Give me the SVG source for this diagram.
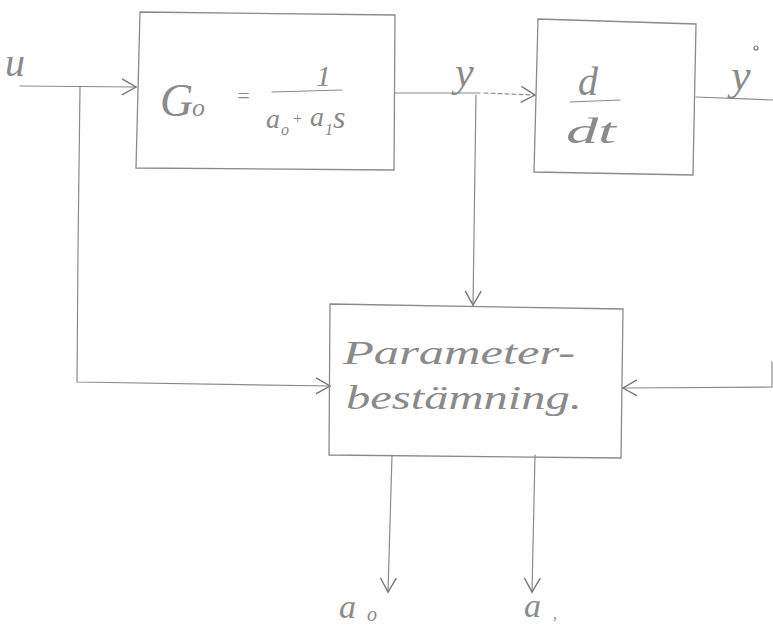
<svg xmlns="http://www.w3.org/2000/svg" width="773" height="633" viewBox="0 0 773 633">
<style>
.ln{fill:none;stroke:#8a8a8a;stroke-width:1.2;stroke-linecap:round;stroke-linejoin:round}
.bx{fill:none;stroke:#8a8a8a;stroke-width:1.3}
.t{font-family:"Liberation Serif","DejaVu Serif",serif;font-style:italic;fill:#8a8a8a}
</style>
<defs>
<marker id="ah" viewBox="0 0 20 20" refX="18" refY="10" markerWidth="20" markerHeight="20" markerUnits="userSpaceOnUse" orient="auto">
<path d="M4,2 L18,10 L4,18" fill="none" stroke="#777" stroke-width="1.4"/>
</marker>
</defs>
<rect width="773" height="633" fill="#fff"/>
<g id="connectors">
<path class="ln" d="M20,86 L136,87" marker-end="url(#ah)"/>
<path class="ln" d="M80,87 L78,250 L77,382 L330,386" marker-end="url(#ah)"/>
<path class="ln" d="M395,93 L480,93"/>
<path class="ln" d="M484,93 L535,95" stroke-dasharray="4 3" marker-end="url(#ah)"/>
<path class="ln" d="M476,95 L473,305" marker-end="url(#ah)"/>
<path class="ln" d="M696,97 L773,100"/>
<path class="ln" d="M772,362 L772,387 L623,388" marker-end="url(#ah)"/>
<path class="ln" d="M392,455 L388,592" marker-end="url(#ah)"/>
<path class="ln" d="M535,455 L532,592" marker-end="url(#ah)"/>
</g>
<g id="u-label"><text class="t" x="5" y="76" font-size="40">u</text></g>
<g id="plant">
<path class="bx" d="M140,12 L395,15 L394,170 L136,168 Z"/>
<text class="t" x="160" y="116" font-size="46">G</text>
<text class="t" x="192" y="116" font-size="26">o</text>
<text class="t" x="236" y="103" font-size="22">=</text>
<path class="ln" d="M272,92 L342,90"/>
<text class="t" x="316" y="86" font-size="30">1</text>
<text class="t" x="266" y="128" font-size="28">a</text>
<text class="t" x="281" y="135" font-size="16">o</text>
<text class="t" x="292" y="124" font-size="16">+</text>
<text class="t" x="310" y="126" font-size="28">a</text>
<text class="t" x="325" y="135" font-size="16">1</text>
<text class="t" x="333" y="128" font-size="32">s</text>
</g>
<g id="y-label"><text class="t" x="455" y="86" font-size="42">y</text></g>
<g id="deriv">
<path class="bx" d="M538,19 L696,24 L693,175 L534,172 Z"/>
<text class="t" x="578" y="95" font-size="40">d</text>
<path class="ln" d="M570,102 L620,100"/>
<text class="t" x="566" y="143" font-size="36" textLength="50" lengthAdjust="spacingAndGlyphs">dt</text>
</g>
<g id="ydot-label">
<text class="t" x="731" y="90" font-size="44">y</text>
<circle cx="756" cy="48" r="2" fill="none" stroke="#777" stroke-width="1.2"/>
</g>
<g id="param">
<path class="bx" d="M330,304 L623,309 L621,458 L329,455 Z"/>
<text class="t" x="343" y="364" font-size="34" textLength="232" lengthAdjust="spacingAndGlyphs">Parameter-</text>
<text class="t" x="346" y="409" font-size="34" textLength="236" lengthAdjust="spacingAndGlyphs">bestämning.</text>
</g>
<g id="a0-label">
<text class="t" x="339" y="618" font-size="34">a</text>
<text class="t" x="367" y="621" font-size="20">o</text>
</g>
<g id="a1-label">
<text class="t" x="524" y="617" font-size="34">a</text>
<text class="t" x="553" y="619" font-size="16">,</text>
</g>
</svg>
